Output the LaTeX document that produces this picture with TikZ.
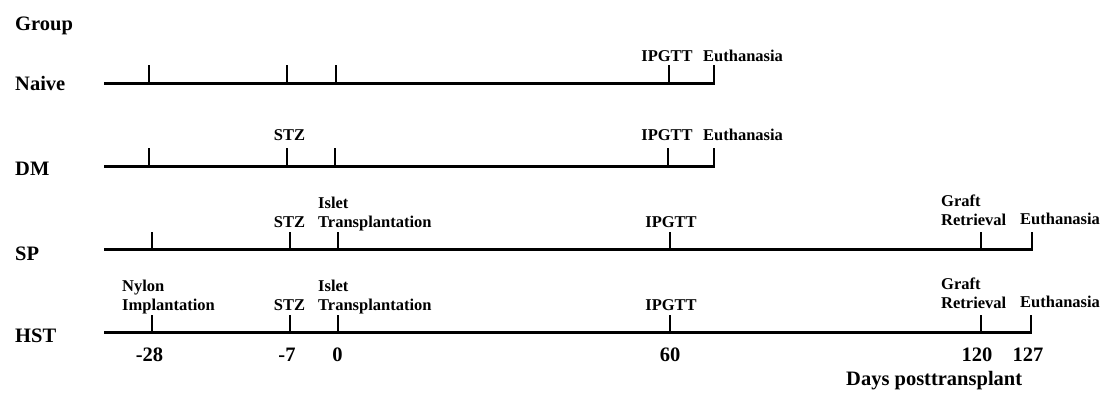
\documentclass[tikz,border=0pt]{standalone}
\usepackage{fontspec}
\setmainfont{Liberation Serif}
\begin{document}
\begin{tikzpicture}[x=1pt,y=-1pt,
  axis/.style={line width=3pt,line cap=butt},
  tick/.style={line width=2.2pt},
  grp/.style={anchor=base west,inner sep=0pt,font=\fontsize{20.5}{24}\selectfont\bfseries},
  evc/.style={anchor=base,inner sep=0pt,font=\fontsize{16.5}{19}\selectfont\bfseries},
  evl/.style={anchor=base west,inner sep=0pt,align=left,font=\fontsize{16.5}{19}\selectfont\bfseries},
  num/.style={anchor=base,inner sep=0pt,font=\fontsize{20.5}{24}\selectfont\bfseries}]
\useasboundingbox (0,0) rectangle (1102,396);

% group labels
\node[grp] (group) at (15,31) {Group};
\node[grp] (naive) at (15,90) {Naive};
\node[grp] (dm) at (15,175) {DM};
\node[grp] (sp) at (15,260) {SP};
\node[grp] (hst) at (15,342) {HST};

% ---------- Naive ----------
\coordinate (n0) at (104,83);
\coordinate (n1) at (149,83); \coordinate (n1t) at (149,65);
\coordinate (n2) at (287,83); \coordinate (n2t) at (287,65);
\coordinate (n3) at (336,83); \coordinate (n3t) at (336,65);
\coordinate (n4) at (669,83); \coordinate (n4t) at (669,65);
\coordinate (n5) at (714,83); \coordinate (n5t) at (714,65);
\draw[axis] (n0) -- ([xshift=1.1pt]n5);
\foreach \i in {1,...,5} \draw[tick] (n\i) -- (n\i t);
\node[evc] (nipgtt) at (667,61) {IPGTT};
\node[evl] (neuth) at (703,61) {Euthanasia};

% ---------- DM ----------
\coordinate (d0) at (104,166);
\coordinate (d1) at (149,166); \coordinate (d1t) at (149,148);
\coordinate (d2) at (287,166); \coordinate (d2t) at (287,148);
\coordinate (d3) at (335,166); \coordinate (d3t) at (335,148);
\coordinate (d4) at (668,166); \coordinate (d4t) at (668,148);
\coordinate (d5) at (714,166); \coordinate (d5t) at (714,148);
\draw[axis] (d0) -- ([xshift=1.1pt]d5);
\foreach \i in {1,...,5} \draw[tick] (d\i) -- (d\i t);
\node[evc] (dstz) at (289.5,140) {STZ};
\node[evc] (dipgtt) at (667,140) {IPGTT};
\node[evl] (deuth) at (703,140) {Euthanasia};

% ---------- SP ----------
\coordinate (s0) at (104,249);
\coordinate (s1) at (152,249); \coordinate (s1t) at (152,232);
\coordinate (s2) at (290,249); \coordinate (s2t) at (290,232);
\coordinate (s3) at (338,249); \coordinate (s3t) at (338,232);
\coordinate (s4) at (670,249); \coordinate (s4t) at (670,232);
\coordinate (s5) at (981,249); \coordinate (s5t) at (981,232);
\coordinate (s6) at (1032,249); \coordinate (s6t) at (1032,232);
\draw[axis] (s0) -- ([xshift=1.1pt]s6);
\foreach \i in {1,...,6} \draw[tick] (s\i) -- (s\i t);
\node[evc] (sstz) at (289.5,227) {STZ};
\node[evl] (sislet) at (318,227) {Islet\\Transplantation};
\node[evc] (sipgtt) at (671,227) {IPGTT};
\node[evl] (sgraft) at (941,225) {Graft\\Retrieval};
\node[evl] (seuth) at (1020,224) {Euthanasia};

% ---------- HST ----------
\coordinate (h0) at (104,332);
\coordinate (h1) at (152,332); \coordinate (h1t) at (152,315);
\coordinate (h2) at (290,332); \coordinate (h2t) at (290,315);
\coordinate (h3) at (338,332); \coordinate (h3t) at (338,315);
\coordinate (h4) at (670,332); \coordinate (h4t) at (670,315);
\coordinate (h5) at (981,332); \coordinate (h5t) at (981,315);
\coordinate (h6) at (1031,332); \coordinate (h6t) at (1031,315);
\draw[axis] (h0) -- ([xshift=1.1pt]h6);
\foreach \i in {1,...,6} \draw[tick] (h\i) -- (h\i t);
\node[evl] (hnylon) at (122,310) {Nylon\\Implantation};
\node[evc] (hstz) at (289.5,310) {STZ};
\node[evl] (hislet) at (318,310) {Islet\\Transplantation};
\node[evc] (hipgtt) at (671,310) {IPGTT};
\node[evl] (hgraft) at (941,308) {Graft\\Retrieval};
\node[evl] (heuth) at (1020,307) {Euthanasia};

% ---------- day numbers ----------
\node[num] (m28) at (149.5,361) {-28};
\node[num] (m7) at (287,361) {-7};
\node[num] (z0) at (337.5,361) {0};
\node[num] (p60) at (670,361) {60};
\node[num] (p120) at (977,361) {120};
\node[num] (p127) at (1028,361) {127};
\node[grp] (days) at (846,385.5) {Days posttransplant};
\end{tikzpicture}
\end{document}
